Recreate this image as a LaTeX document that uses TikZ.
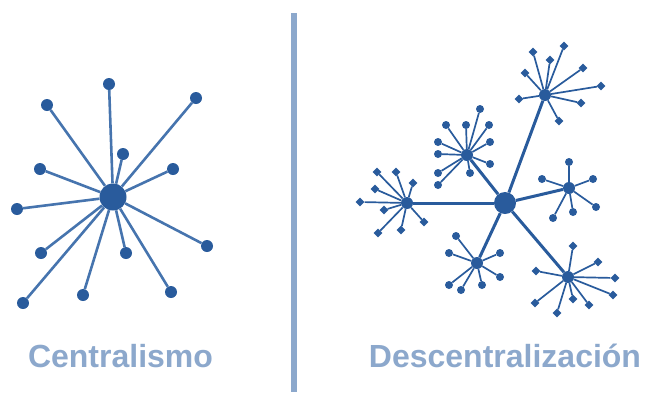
\documentclass[tikz,border=0pt]{standalone}
\usepackage{fontspec}
\setmainfont{Liberation Sans}
\usepackage{tikz}
\usepackage{xcolor}
\usetikzlibrary{shapes.geometric}
\definecolor{dot-blue}{HTML}{295B9C}
\definecolor{spoke-blue}{HTML}{4674AE}
\definecolor{label-blue}{HTML}{8CA8CC}
\tikzset{
    big-dot/.style = {circle, fill=dot-blue, inner sep=0pt, minimum size=27pt},
    hub-dot/.style = {circle, fill=dot-blue, inner sep=0pt, minimum size=12pt},
    leaf-dot/.style = {circle, fill=dot-blue, inner sep=0pt, minimum size=12pt},
    tip-dot/.style = {circle, fill=dot-blue, inner sep=0pt, minimum size=8pt},
    tip-diamond/.style = {diamond, fill=dot-blue, inner sep=0pt, minimum size=9pt},
    spoke/.style = {draw=spoke-blue, line width=2.6pt},
    trunk/.style = {draw=dot-blue, line width=3pt},
    twig/.style = {draw=dot-blue, line width=1.7pt},
    title-text/.style = {text=label-blue, font=\fontsize{32}{38}\selectfont\bfseries, anchor=base},
}

\begin{document}
\begin{tikzpicture}[x=1pt,y=-1pt]
\useasboundingbox (0,0) rectangle (650,392);
% divider
\coordinate (div-top) at (294,13);
\coordinate (div-bottom) at (294,392);
\draw[draw=label-blue, line width=6pt] (div-top) -- (div-bottom);

% centralismo
\node[big-dot] (centre) at (113,197) {};
\foreach \x/\y [count=\i] in {109/84, 47/105, 196/98, 123/154, 40/169, 173/169, 17/209, 41/253, 126/253, 207/246, 23/303, 83/295, 171/292}
{
    \node[leaf-dot] (leaf\i) at (\x,\y) {};
    \draw[spoke] (centre) -- (leaf\i);
}

% descentralizacion
\node[big-dot, minimum size=22pt] (core) at (505,203) {};
\node[hub-dot] (hub-a) at (545,95) {};
\node[hub-dot] (hub-b) at (467,155) {};
\node[hub-dot] (hub-c) at (407,203) {};
\node[hub-dot] (hub-d) at (569,188) {};
\node[hub-dot] (hub-e) at (477,263) {};
\node[hub-dot] (hub-f) at (568,277) {};
\foreach \h in {a,b,c,d,e,f}
    \draw[trunk] (core) -- (hub-\h);

\foreach \x/\y [count=\i] in {533/52, 550/60, 564/46, 525/73, 583/68, 601/86, 519/99, 581/103, 559/121}
{
    \node[tip-diamond] (a\i) at (\x,\y) {};
    \draw[twig] (hub-a) -- (a\i);
}
\foreach \x/\y [count=\i] in {480/109, 446/125, 466/125, 489/125, 438/142, 490/142, 438/154, 490/164, 438/173, 470/173, 438/185}
{
    \node[tip-dot] (b\i) at (\x,\y) {};
    \draw[twig] (hub-b) -- (b\i);
}
\foreach \x/\y [count=\i] in {377/172, 396/172, 375/189, 413/183, 360/202, 384/210, 424/222, 378/233, 401/230}
{
    \node[tip-diamond] (c\i) at (\x,\y) {};
    \draw[twig] (hub-c) -- (c\i);
}
\foreach \x/\y [count=\i] in {569/162, 542/179, 593/179, 553/218, 573/212, 596/207}
{
    \node[tip-dot] (d\i) at (\x,\y) {};
    \draw[twig] (hub-d) -- (d\i);
}
\foreach \x/\y [count=\i] in {456/236, 449/253, 500/253, 500/277, 449/285, 461/290, 482/285}
{
    \node[tip-dot] (e\i) at (\x,\y) {};
    \draw[twig] (hub-e) -- (e\i);
}
\foreach \x/\y [count=\i] in {573/246, 536/271, 598/262, 615/278, 613/295, 535/303, 557/313, 573/299, 589/305}
{
    \node[tip-diamond] (f\i) at (\x,\y) {};
    \draw[twig] (hub-f) -- (f\i);
}

% labels
\node[title-text] (left-title) at (120.5,367) {Centralismo};
\node[title-text] (right-title) at (505,367) {Descentralización};
\end{tikzpicture}
\end{document}
